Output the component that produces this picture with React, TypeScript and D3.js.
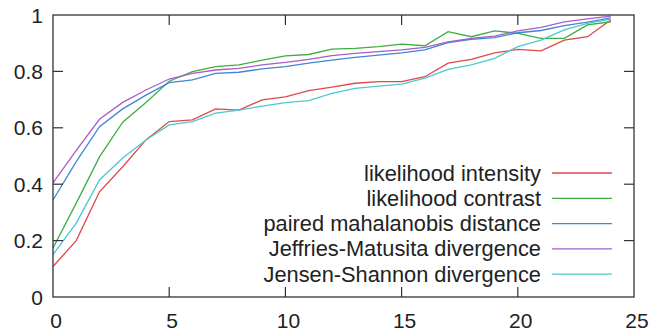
import React from "react";
import * as d3 from "d3";

const W = 650;
const H = 334;
const margin = { left: 53, right: 16, top: 15, bottom: 37 };

const steps = d3.range(0, 25);

const likelihoodIntensity = [0.108, 0.2, 0.373, 0.462, 0.557, 0.622, 0.628, 0.667, 0.663, 0.699, 0.71, 0.732, 0.744, 0.758, 0.764, 0.764, 0.781, 0.829, 0.843, 0.866, 0.878, 0.873, 0.911, 0.923, 0.982];
const likelihoodContrast = [0.174, 0.333, 0.497, 0.62, 0.69, 0.765, 0.799, 0.817, 0.823, 0.84, 0.855, 0.86, 0.879, 0.882, 0.888, 0.897, 0.891, 0.941, 0.923, 0.944, 0.935, 0.917, 0.917, 0.965, 0.976];
const pairedMahalanobis = [0.344, 0.48, 0.604, 0.667, 0.716, 0.76, 0.77, 0.793, 0.797, 0.809, 0.817, 0.829, 0.84, 0.85, 0.858, 0.866, 0.876, 0.902, 0.914, 0.92, 0.937, 0.945, 0.962, 0.975, 0.99];
const jeffriesMatusita = [0.405, 0.52, 0.63, 0.69, 0.734, 0.773, 0.793, 0.805, 0.811, 0.823, 0.832, 0.843, 0.856, 0.864, 0.87, 0.876, 0.885, 0.905, 0.917, 0.925, 0.944, 0.956, 0.976, 0.986, 0.996];
const jensenShannon = [0.15, 0.262, 0.415, 0.493, 0.557, 0.61, 0.622, 0.652, 0.663, 0.677, 0.689, 0.696, 0.722, 0.74, 0.748, 0.755, 0.776, 0.807, 0.823, 0.846, 0.888, 0.911, 0.947, 0.97, 0.985];

const seriesNames = [
  "likelihood intensity",
  "likelihood contrast",
  "paired mahalanobis distance",
  "Jeffries-Matusita divergence",
  "Jensen-Shannon divergence",
];
const seriesValues = [likelihoodIntensity, likelihoodContrast, pairedMahalanobis, jeffriesMatusita, jensenShannon];
const seriesColors = ["#e04848", "#3fae3f", "#3f86d6", "#a95ccc", "#4cc8d2"];

const xTicks = [0, 5, 10, 15, 20, 25];
const yTicks = [0, 0.2, 0.4, 0.6, 0.8, 1];
const yTickLabels = ["0", "0.2", "0.4", "0.6", "0.8", "1"];

export default function App() {
  const x = d3.scaleLinear().domain([0, 25]).range([margin.left, W - margin.right]);
  const y = d3.scaleLinear().domain([0, 1]).range([H - margin.bottom, margin.top]);
  const line = d3
    .line<number>()
    .x((_, i) => x(steps[i]))
    .y((v) => y(v));

  const font = "'Liberation Sans', Arial, Helvetica, sans-serif";
  const axisColor = "#333";
  const tickLen = 10;
  const x0 = x(0), x1 = x(25), y0 = y(0), y1 = y(1);

  const legendRight = 541;
  const legendLineX0 = 552;
  const legendLineX1 = 612;
  const legendTop = 173;
  const legendStep = 25.3;

  return (
    <svg
      width={W}
      height={H}
      style={{ position: "fixed", left: 0, top: 0, background: "#fff" }}
      fontFamily={font}
    >
      <rect x={0} y={0} width={W} height={H} fill="#fff" />

      {/* series */}
      {seriesValues.map((vals, k) => (
        <path key={k} d={line(vals) || ""} fill="none" stroke={seriesColors[k]} strokeWidth={1.3} />
      ))}

      {/* mirrored ticks */}
      {xTicks.slice(1, -1).map((t) => (
        <g key={"xt" + t} stroke={axisColor} strokeWidth={1.2}>
          <line x1={x(t)} x2={x(t)} y1={y0} y2={y0 - tickLen} />
          <line x1={x(t)} x2={x(t)} y1={y1} y2={y1 + tickLen} />
        </g>
      ))}
      {yTicks.slice(1, -1).map((t) => (
        <g key={"yt" + t} stroke={axisColor} strokeWidth={1.2}>
          <line x1={x0} x2={x0 + tickLen} y1={y(t)} y2={y(t)} />
          <line x1={x1} x2={x1 - tickLen} y1={y(t)} y2={y(t)} />
        </g>
      ))}

      {/* border */}
      <rect x={x0} y={y1} width={x1 - x0} height={y0 - y1} fill="none" stroke={axisColor} strokeWidth={1.3} />

      {/* tick labels */}
      {xTicks.map((t) => (
        <text key={"xl" + t} x={x(t) + 3} y={y0 + 31} textAnchor="middle" fontSize={21} fill="#222">
          {t}
        </text>
      ))}
      {yTicks.map((t, i) => (
        <text key={"yl" + t} x={43} y={y(t) + 7.5} textAnchor="end" fontSize={21} fill="#222">
          {yTickLabels[i]}
        </text>
      ))}

      {/* legend */}
      {seriesNames.map((name, k) => {
        const ly = legendTop + k * legendStep;
        return (
          <g key={"lg" + k}>
            <text x={legendRight} y={ly + 7.5} textAnchor="end" fontSize={21.8} fill="#222">
              {name}
            </text>
            <line x1={legendLineX0} x2={legendLineX1} y1={ly} y2={ly} stroke={seriesColors[k]} strokeWidth={1.3} />
          </g>
        );
      })}
    </svg>
  );
}
